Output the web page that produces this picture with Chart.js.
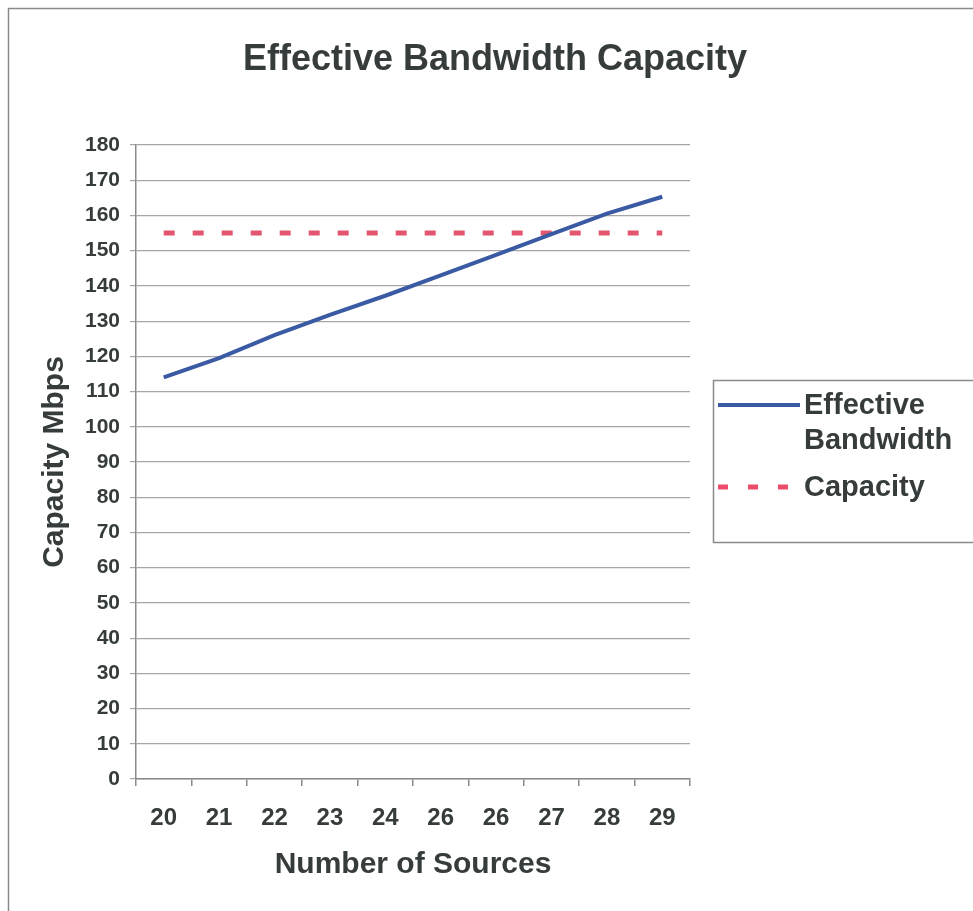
<!DOCTYPE html>
<html>
<head>
<meta charset="utf-8">
<script src="https://cdn.jsdelivr.net/npm/chart.js@4/dist/chart.umd.min.js"></script>
<style>
  html, body { margin: 0; padding: 0; background: #ffffff; }
  #wrap { position: relative; width: 973px; height: 911px; }
</style>
</head>
<body>
<div id="wrap"><canvas id="chart" width="973" height="911"></canvas></div>
<script>
// Number of sources on the x axis (labels as printed)
const sources = ["20", "21", "22", "23", "24", "26", "26", "27", "28", "29"];
// Effective bandwidth in Mbps for each source count
const effectiveBandwidth = [114, 119.5, 126, 131.8, 137.2, 143, 148.8, 154.7, 160.5, 165.3];
// Link capacity in Mbps
const capacity = [155, 155, 155, 155, 155, 155, 155, 155, 155, 155];

const chartTitle = "Effective Bandwidth Capacity";
const xTitle = "Number of Sources";
const yTitle = "Capacity Mbps";
const legendItems = [
  { lines: ["Effective", "Bandwidth"], color: "#3a5aa3", dash: [] },
  { lines: ["Capacity"], color: "#ec4d6b", dash: [10, 20] }
];

const FONT = "'Liberation Sans', Arial, Helvetica, sans-serif";
const TEXT = "#363c3c";
const BLUE = "#3a5aa3";
const RED = "#e2566f";

// Frame, heading and side legend drawn around the plot
const decor = {
  id: "decor",
  beforeDraw(chart) {
    const ctx = chart.ctx;
    ctx.save();
    ctx.fillStyle = "#ffffff";
    ctx.fillRect(0, 0, chart.width, chart.height);
    ctx.strokeStyle = "#8a8a8a";
    ctx.lineWidth = 1.5;
    ctx.beginPath();
    ctx.moveTo(8.5, chart.height);
    ctx.lineTo(8.5, 8.5);
    ctx.lineTo(chart.width, 8.5);
    ctx.stroke();
    ctx.restore();
  },
  afterDraw(chart) {
    const ctx = chart.ctx;
    ctx.save();
    ctx.fillStyle = TEXT;
    ctx.font = "bold 36px " + FONT;
    ctx.textAlign = "center";
    ctx.textBaseline = "middle";
    ctx.fillText(chartTitle, 495, 60);

    // legend box
    ctx.strokeStyle = "#8a8a8a";
    ctx.lineWidth = 1.5;
    ctx.strokeRect(713.5, 380.5, 300, 162);

    ctx.font = "bold 29px " + FONT;
    ctx.textAlign = "left";
    let y = 405;
    legendItems.forEach(item => {
      ctx.strokeStyle = item.color;
      ctx.lineWidth = item.dash.length ? 5 : 4;
      ctx.setLineDash(item.dash);
      ctx.beginPath();
      ctx.moveTo(718, y);
      ctx.lineTo(800, y);
      ctx.stroke();
      ctx.setLineDash([]);
      item.lines.forEach((t, i) => {
        ctx.fillText(t, 804, y + 1 + i * 35);
      });
      y += item.lines.length * 35 + 12;
    });
    ctx.restore();
  }
};

new Chart(document.getElementById("chart"), {
  type: "line",
  data: {
    labels: sources,
    datasets: [
      {
        label: "Effective Bandwidth",
        data: effectiveBandwidth,
        borderColor: BLUE,
        borderWidth: 4,
        pointRadius: 0,
        tension: 0,
        fill: false
      },
      {
        label: "Capacity",
        data: capacity,
        borderColor: RED,
        borderWidth: 5,
        borderDash: [11, 18],
        pointRadius: 0,
        tension: 0,
        fill: false
      }
    ]
  },
  plugins: [decor],
  options: {
    responsive: false,
    animation: false,
    layout: { padding: { top: 145, right: 283, bottom: 0, left: 0 } },
    plugins: {
      legend: { display: false },
      title: { display: false },
      tooltip: { enabled: false }
    },
    scales: {
      x: {
        type: "category",
        offset: true,
        afterFit(s) { s.height = 132; },
        grid: {
          display: true,
          drawOnChartArea: false,
          drawTicks: true,
          tickLength: 7,
          offset: true,
          color: "#8a8a8a",
          lineWidth: 1.5
        },
        border: { display: true, color: "#8a8a8a", width: 1.5 },
        ticks: {
          color: TEXT,
          padding: 18,
          maxRotation: 0,
          autoSkip: false,
          font: { family: FONT, size: 24, weight: "bold" }
        },
        title: {
          display: true,
          text: xTitle,
          color: TEXT,
          padding: { top: 0, bottom: 28 },
          font: { family: FONT, size: 30, weight: "bold", lineHeight: 1.2 }
        }
      },
      y: {
        min: 0,
        max: 180,
        afterFit(s) { s.width = 136; },
        grid: {
          color: "#a6a6a6",
          lineWidth: 1.2,
          tickLength: 6,
          drawTicks: true
        },
        border: { display: true, color: "#8a8a8a", width: 1.5 },
        ticks: {
          stepSize: 10,
          color: TEXT,
          padding: 10,
          font: { family: FONT, size: 21, weight: "bold" }
        },
        title: {
          display: true,
          text: yTitle,
          color: TEXT,
          padding: { top: 37, bottom: 0 },
          font: { family: FONT, size: 30, weight: "bold", lineHeight: 1.2 }
        }
      }
    }
  }
});
</script>
</body>
</html>
